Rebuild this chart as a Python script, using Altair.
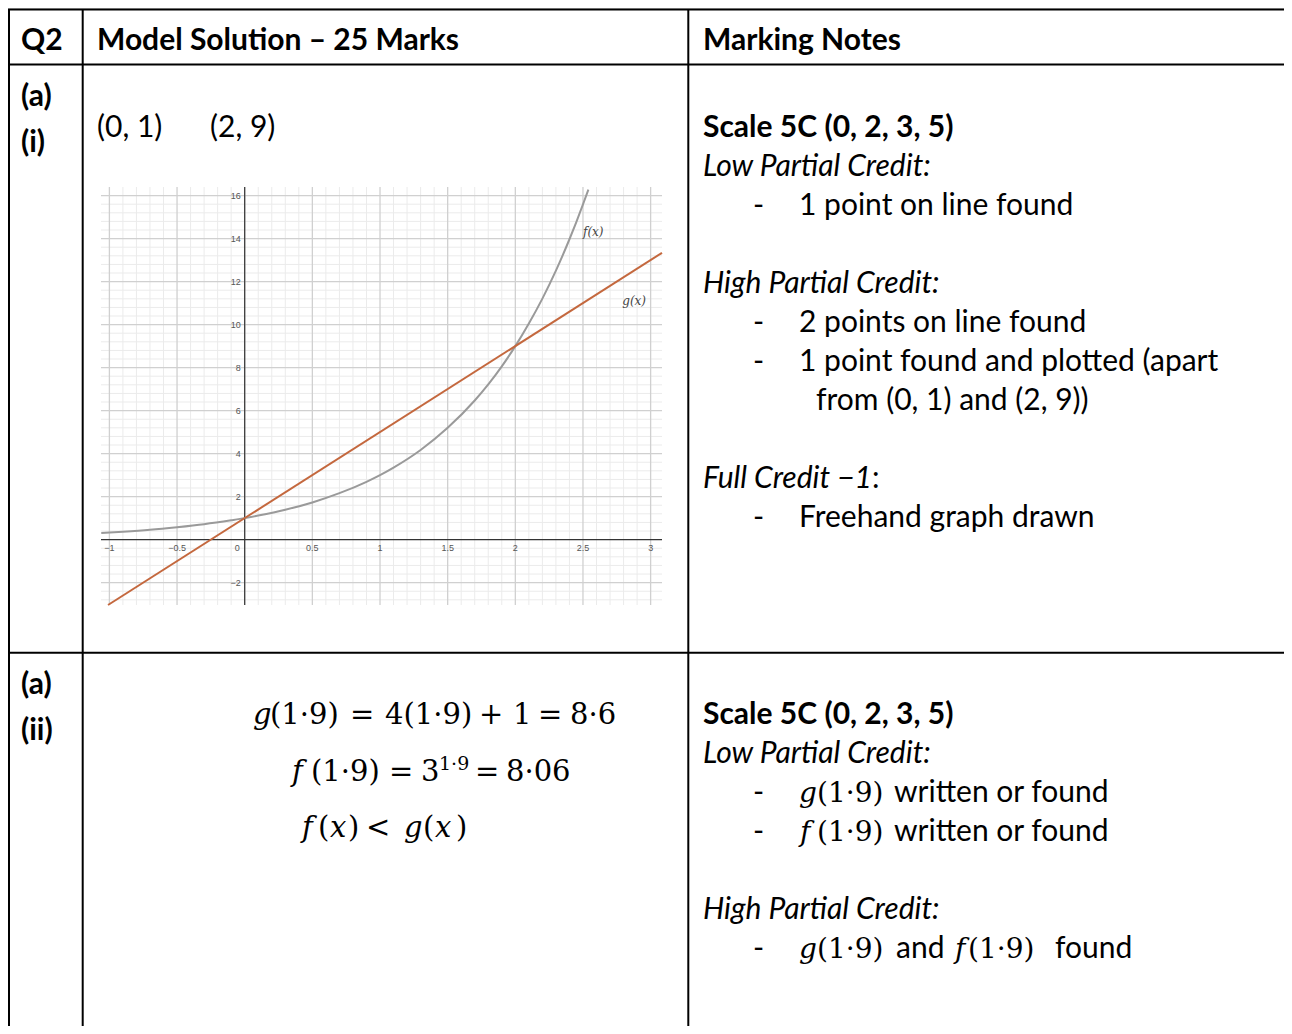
import altair as alt
import pandas as pd

# ---------------- chart values ----------------
# f(x) = 3^x  (grey curve)
f_x = [-1.06, -0.9, -0.7, -0.5, -0.3, -0.1, 0.0, 0.1, 0.3, 0.5, 0.7, 0.9, 1.0,
       1.1, 1.3, 1.5, 1.7, 1.8, 1.9, 2.0, 2.1, 2.2, 2.3, 2.4, 2.45, 2.5, 2.54]
f_y = [0.31, 0.37, 0.46, 0.58, 0.72, 0.90, 1.0, 1.12, 1.39, 1.73, 2.16, 2.69, 3.0,
       3.35, 4.17, 5.20, 6.47, 7.22, 8.06, 9.0, 10.05, 11.21, 12.51, 13.97, 14.76, 15.59, 16.28]
# g(x) = 4x + 1  (orange line)
g_x = [-1.01, 3.084]
g_y = [-3.04, 13.34]

x_tick_values = [-1, -0.5, 0.5, 1, 1.5, 2, 2.5, 3]
x_tick_labels = ["\u22121", "\u22120.5", "0.5", "1", "1.5", "2", "2.5", "3"]
y_tick_values = [-2, 2, 4, 6, 8, 10, 12, 14, 16]
y_tick_labels = ["\u22122", "2", "4", "6", "8", "10", "12", "14", "16"]
origin_label = "0"
curve_labels = ["f(x)", "g(x)"]
curve_label_x = [2.50, 2.79]
curve_label_y = [14.3, 11.1]

# ---------------- table text ----------------
header_cells = ["Q2", "Model Solution \u2013 25 Marks", "Marking Notes"]
part_labels_1 = ["(a)", "(i)"]
part_labels_2 = ["(a)", "(ii)"]
points_found = ["(0, 1)", "(2, 9)"]
scale_text = "Scale 5C (0, 2, 3, 5)"
low_text = "Low Partial Credit:"
high_text = "High Partial Credit:"
full_text = "Full Credit \u22121"
bullet = "-"
notes_row1_low = ["1 point on line found"]
notes_row1_high = ["2 points on line found", "1 point found and plotted (apart"]
notes_row1_cont = "from (0, 1) and (2, 9))"
notes_row1_full = ["Freehand graph drawn"]
math_arg = "(1\u00b79)"
written = "written or found"

# ---------------- layout ----------------
M = 8  # page margin
W, H = 1276, 1018
BODY = "Lato"
BODY_SIZE = 30
MATH = "DejaVu Serif"
MATH_SIZE = 29
TDY = 2  # vertical nudge for all table text
dummy = pd.DataFrame({"k": [0]})
layers = []


def txt(s, px, py, font=BODY, size=BODY_SIZE, weight="normal", style="normal",
        color="black", align="left"):
    layers.append(
        alt.Chart(dummy).mark_text(
            text=s, font=font, fontSize=size, fontWeight=weight, fontStyle=style,
            color=color, align=align, baseline="alphabetic"
        ).encode(x=alt.value(px - M), y=alt.value(py - M + TDY))
    )


def hline(py, x0=8, x1=1292, w=2):
    layers.append(alt.Chart(dummy).mark_rule(color="black", strokeWidth=w).encode(
        x=alt.value(x0 - M), x2=alt.value(x1 - M), y=alt.value(py - M)))


def vline(px, y0=9, y1=1034, w=2):
    layers.append(alt.Chart(dummy).mark_rule(color="black", strokeWidth=w).encode(
        x=alt.value(px - M), y=alt.value(y0 - M), y2=alt.value(y1 - M)))


# graph scales placed inside the left cell
XD = [-1.062, 3.084]
YD = [-3.04, 16.40]
xs = alt.Scale(domain=XD, range=[101 - M, 662 - M], nice=False, zero=False)
ys = alt.Scale(domain=YD, range=[605 - M, 187 - M], nice=False, zero=False)

x_minor = [round(-1 + 0.1 * i, 1) for i in range(41)]
x_major = [v for v in x_minor if abs(v * 2 - round(v * 2)) < 1e-9]
x_minor = [v for v in x_minor if v not in x_major]
y_minor = [round(-2.8 + 0.4 * i, 1) for i in range(48)]
y_major = [v for v in y_minor if abs(v / 2 - round(v / 2)) < 1e-9 and v != 0]
y_minor = [v for v in y_minor if v not in y_major and v != 0]


def vgrid(vals, color, w):
    return alt.Chart(pd.DataFrame({"x": vals})).mark_rule(color=color, strokeWidth=w).encode(
        x=alt.X("x:Q", scale=xs, axis=None),
        y=alt.YDatum(YD[0], scale=ys, axis=None),
        y2=alt.Y2Datum(YD[1]))


def hgrid(vals, color, w):
    return alt.Chart(pd.DataFrame({"y": vals})).mark_rule(color=color, strokeWidth=w).encode(
        y=alt.Y("y:Q", scale=ys, axis=None),
        x=alt.XDatum(XD[0], scale=xs, axis=None),
        x2=alt.X2Datum(XD[1]))


layers += [vgrid(x_minor, "#ebebeb", 1), hgrid(y_minor, "#ebebeb", 1),
           vgrid(x_major, "#d0d0d0", 1.3), hgrid(y_major, "#d0d0d0", 1.3)]

# axes
layers.append(alt.Chart(dummy).mark_rule(color="#333333", strokeWidth=1.2).encode(
    y=alt.YDatum(0, scale=ys, axis=None), x=alt.XDatum(XD[0], scale=xs, axis=None),
    x2=alt.X2Datum(XD[1])))
layers.append(alt.Chart(dummy).mark_rule(color="#333333", strokeWidth=1.2).encode(
    x=alt.XDatum(0, scale=xs, axis=None), y=alt.YDatum(YD[0], scale=ys, axis=None),
    y2=alt.Y2Datum(YD[1])))

# tick labels
layers.append(alt.Chart(pd.DataFrame({"x": x_tick_values, "t": x_tick_labels})).mark_text(
    font="Liberation Sans", fontSize=9, color="#555555", baseline="middle", dy=8).encode(
    x=alt.X("x:Q", scale=xs, axis=None), y=alt.YDatum(0, scale=ys, axis=None), text="t:N"))
layers.append(alt.Chart(pd.DataFrame({"y": y_tick_values, "t": y_tick_labels})).mark_text(
    font="Liberation Sans", fontSize=9, color="#555555", baseline="middle", align="right",
    dx=-4).encode(
    y=alt.Y("y:Q", scale=ys, axis=None), x=alt.XDatum(0, scale=xs, axis=None), text="t:N"))
layers.append(alt.Chart(dummy).mark_text(
    text=origin_label, font="Liberation Sans", fontSize=9, color="#555555",
    baseline="middle", align="right", dx=-5, dy=8).encode(
    x=alt.XDatum(0, scale=xs, axis=None), y=alt.YDatum(0, scale=ys, axis=None)))

# curves
layers.append(alt.Chart(pd.DataFrame({"x": f_x, "y": f_y})).mark_line(
    color="#9a9a9a", strokeWidth=2, interpolate="monotone").encode(
    x=alt.X("x:Q", scale=xs, axis=None), y=alt.Y("y:Q", scale=ys, axis=None)))
layers.append(alt.Chart(pd.DataFrame({"x": g_x, "y": g_y})).mark_line(
    color="#c4683e", strokeWidth=2).encode(
    x=alt.X("x:Q", scale=xs, axis=None), y=alt.Y("y:Q", scale=ys, axis=None)))
layers.append(alt.Chart(pd.DataFrame({"x": curve_label_x, "y": curve_label_y, "t": curve_labels})).mark_text(
    font=MATH, fontSize=12, fontStyle="italic", color="#444444", align="left",
    baseline="middle").encode(
    x=alt.X("x:Q", scale=xs, axis=None), y=alt.Y("y:Q", scale=ys, axis=None), text="t:N"))

# ---------------- table borders ----------------
hline(9.5)
hline(64.5)
hline(652.7)
vline(9)
vline(82.7)
vline(688.3)

# ---------------- header ----------------
txt(header_cells[0], 21, 48, weight="bold")
txt(header_cells[1], 97, 48, weight="bold")
txt(header_cells[2], 703, 48, weight="bold")

# ---------------- row 1 ----------------
txt(part_labels_1[0], 21, 104, weight="bold")
txt(part_labels_1[1], 21, 150, weight="bold")
txt(points_found[0], 97, 135)
txt(points_found[1], 210, 135)

LS = 39
b = 135
txt(scale_text, 703, b, weight="bold")
txt(low_text, 703, b + LS, style="italic")
txt(bullet, 753, b + 2 * LS)
txt(notes_row1_low[0], 799, b + 2 * LS)
txt(high_text, 703, b + 4 * LS, style="italic")
for i, s in enumerate(notes_row1_high):
    txt(bullet, 753, b + (5 + i) * LS)
    txt(s, 799, b + (5 + i) * LS)
txt(notes_row1_cont, 816, b + 7 * LS)
txt(full_text, 703, b + 9 * LS, style="italic")
txt(":", 872, b + 9 * LS)
txt(bullet, 753, b + 10 * LS)
txt(notes_row1_full[0], 799, b + 10 * LS)

# ---------------- row 2 ----------------
txt(part_labels_2[0], 21, 692, weight="bold")
txt(part_labels_2[1], 21, 738, weight="bold")

# model solution maths
y1, y2, y3 = 722, 779, 835
txt("g", 253, y1, font=MATH, size=MATH_SIZE, style="italic")
txt(math_arg, 270, y1, font=MATH, size=MATH_SIZE)
txt("=", 350, y1, font=MATH, size=MATH_SIZE)
txt("4" + math_arg, 385, y1, font=MATH, size=MATH_SIZE)
txt("+", 479, y1, font=MATH, size=MATH_SIZE)
txt("1", 513, y1, font=MATH, size=MATH_SIZE)
txt("=", 538, y1, font=MATH, size=MATH_SIZE)
txt("8\u00b76", 570, y1, font=MATH, size=MATH_SIZE)

txt("f", 292, y2, font=MATH, size=MATH_SIZE, style="italic")
txt(math_arg, 311, y2, font=MATH, size=MATH_SIZE)
txt("=", 389, y2, font=MATH, size=MATH_SIZE)
txt("3", 421, y2, font=MATH, size=MATH_SIZE)
txt("1\u00b79", 439, y2 - 11, font=MATH, size=19)
txt("=", 475, y2, font=MATH, size=MATH_SIZE)
txt("8\u00b706", 506, y2, font=MATH, size=MATH_SIZE)

txt("f", 302, y3, font=MATH, size=MATH_SIZE, style="italic")
txt("(", 318, y3, font=MATH, size=MATH_SIZE)
txt("x", 330, y3, font=MATH, size=MATH_SIZE, style="italic")
txt(")", 348, y3, font=MATH, size=MATH_SIZE)
txt("<", 366, y3, font=MATH, size=MATH_SIZE)
txt("g", 404, y3, font=MATH, size=MATH_SIZE, style="italic")
txt("(", 423, y3, font=MATH, size=MATH_SIZE)
txt("x", 435, y3, font=MATH, size=MATH_SIZE, style="italic")
txt(")", 456, y3, font=MATH, size=MATH_SIZE)

# marking notes row 2
b2 = 722
RM = 28
txt(scale_text, 703, b2, weight="bold")
txt(low_text, 703, b2 + LS, style="italic")
txt(bullet, 753, b2 + 2 * LS)
txt("g", 799, b2 + 2 * LS, font=MATH, size=RM, style="italic")
txt(math_arg, 817, b2 + 2 * LS, font=MATH, size=RM)
txt(written, 894, b2 + 2 * LS)
txt(bullet, 753, b2 + 3 * LS)
txt("f", 800, b2 + 3 * LS, font=MATH, size=RM, style="italic")
txt(math_arg, 817, b2 + 3 * LS, font=MATH, size=RM)
txt(written, 894, b2 + 3 * LS)
txt(high_text, 703, b2 + 5 * LS, style="italic")
txt(bullet, 753, b2 + 6 * LS)
txt("g", 799, b2 + 6 * LS, font=MATH, size=RM, style="italic")
txt(math_arg, 817, b2 + 6 * LS, font=MATH, size=RM)
txt("and", 896, b2 + 6 * LS)
txt("f", 955, b2 + 6 * LS, font=MATH, size=RM, style="italic")
txt(math_arg, 968, b2 + 6 * LS, font=MATH, size=RM)
txt("found", 1055, b2 + 6 * LS)

chart = alt.layer(*layers).properties(
    width=W, height=H, padding=0,
    autosize=alt.AutoSizeParams(type="none"),
).configure_view(stroke=None).configure(background="white")

chart.save("out.html", embed_options={"renderer": "svg", "actions": False})
